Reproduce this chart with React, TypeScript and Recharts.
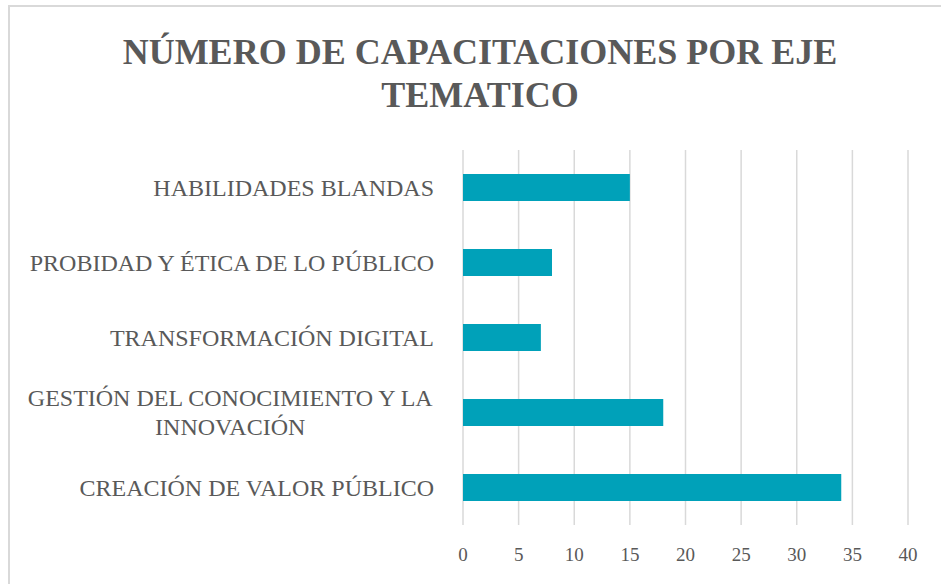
import React from 'react';
import { BarChart, Bar, XAxis, YAxis, CartesianGrid } from 'recharts';

// categories, top to bottom as they appear in the chart
const categories = [
  'HABILIDADES BLANDAS',
  'PROBIDAD Y ÉTICA DE LO PÚBLICO',
  'TRANSFORMACIÓN DIGITAL',
  'GESTIÓN DEL CONOCIMIENTO Y LA INNOVACIÓN',
  'CREACIÓN DE VALOR PÚBLICO',
];
const capacitaciones = [15, 8, 7, 18, 34];
const xTicks = [0, 5, 10, 15, 20, 25, 30, 35, 40];

const data = categories.map((name, i) => ({ name, value: capacitaciones[i] }));

const FONT = '"Liberation Serif", "DejaVu Serif", serif';
const TEXT = '#595959';
const LABEL_SIZE = 24;

let ctx: CanvasRenderingContext2D | null = null;
const measure = (s: string) => {
  if (!ctx) ctx = document.createElement('canvas').getContext('2d');
  if (!ctx) return s.length * LABEL_SIZE * 0.65;
  ctx.font = `${LABEL_SIZE}px ${FONT}`;
  return ctx.measureText(s).width;
};

// simple greedy wrap by characters
const wrap = (s: string, max = 30) => {
  const lines: string[] = [];
  let cur = '';
  s.split(' ').forEach((w) => {
    const next = cur ? cur + ' ' + w : w;
    if (next.length > max && cur) {
      lines.push(cur);
      cur = w;
    } else cur = next;
  });
  if (cur) lines.push(cur);
  return lines;
};

const CategoryTick = (props: any) => {
  const { x, y, payload } = props;
  const lines = wrap(String(payload.value));
  const lh = 29;
  if (lines.length === 1) {
    return (
      <text x={x} y={y} dy="0.35em" textAnchor="end" fill={TEXT} fontSize={LABEL_SIZE} fontFamily={FONT}>
        {lines[0]}
      </text>
    );
  }
  const w = Math.max(...lines.map(measure));
  const cx = x - w / 2;
  const y0 = y - ((lines.length - 1) * lh) / 2;
  return (
    <text textAnchor="middle" fill={TEXT} fontSize={LABEL_SIZE} fontFamily={FONT}>
      {lines.map((l, i) => (
        <tspan key={i} x={cx} y={y0 + i * lh} dy="0.35em">
          {l}
        </tspan>
      ))}
    </text>
  );
};

export default function App() {
  return (
    <div style={{ position: 'absolute', left: 0, top: 0, width: 941, height: 584, overflow: 'hidden', background: '#fff' }}>
      <div
        style={{
          position: 'absolute',
          left: 8,
          top: 5,
          width: 933,
          height: 579,
          borderTop: '2px solid #d9d9d9',
          borderLeft: '2px solid #d9d9d9',
          boxSizing: 'border-box',
        }}
      />
      <div
        style={{
          position: 'absolute',
          left: 10,
          top: 31,
          width: 940,
          textAlign: 'center',
          fontFamily: FONT,
          fontWeight: 'bold',
          fontSize: 36,
          lineHeight: '43px',
          color: TEXT,
        }}
      >
        NÚMERO DE CAPACITACIONES POR EJE
        <br />
        TEMATICO
      </div>
      <div style={{ position: 'absolute', left: 0, top: 0 }}>
        <BarChart
          width={941}
          height={584}
          data={data}
          layout="vertical"
          margin={{ top: 150, right: 33, bottom: 19, left: 23 }}
        >
          <CartesianGrid horizontal={false} stroke="#d9d9d9" strokeWidth={1.5} />
          <XAxis
            type="number"
            domain={[0, 40]}
            ticks={xTicks}
            axisLine={false}
            tickLine={false}
            tickMargin={17}
            height={40}
            tick={{ fill: TEXT, fontSize: 19, fontFamily: FONT }}
          />
          <YAxis
            type="category"
            dataKey="name"
            width={440}
            axisLine={false}
            tickLine={false}
            tickMargin={23}
            interval={0}
            tick={<CategoryTick />}
          />
          <Bar dataKey="value" fill="#00A1B9" barSize={27} isAnimationActive={false} />
        </BarChart>
      </div>
    </div>
  );
}
